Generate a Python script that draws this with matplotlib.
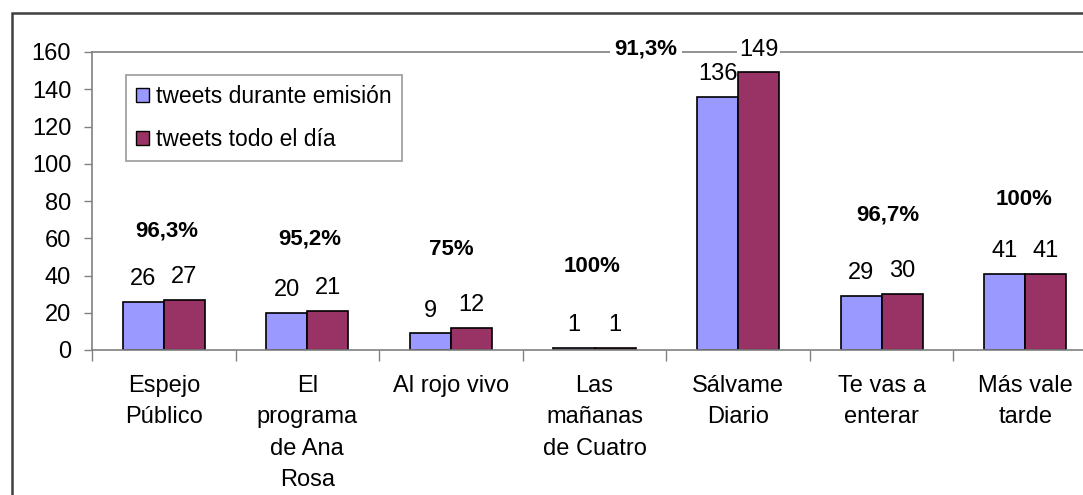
import matplotlib
matplotlib.use("Agg")
import matplotlib.pyplot as plt
from matplotlib.patches import Rectangle, Patch
import numpy as np

# ---- data ----
categories = ["Espejo\nPúblico", "El\nprograma\nde Ana\nRosa", "Al rojo vivo",
              "Las\nmañanas\nde Cuatro", "Sálvame\nDiario", "Te vas a\nenterar",
              "Más vale\ntarde"]
durante = [26, 20, 9, 1, 136, 29, 41]
todo_dia = [27, 21, 12, 1, 149, 30, 41]
porcentajes = ["96,3%", "95,2%", "75%", "100%", "91,3%", "96,7%", "100%"]
series_names = ["tweets durante emisión", "tweets todo el día"]
yticks = [0, 20, 40, 60, 80, 100, 120, 140, 160]

# ---- style ----
plt.rcParams["font.family"] = ["Liberation Sans", "DejaVu Sans"]
C_BLUE = "#9999FF"
C_RED = "#993366"
GREY = "#808080"
FS = 17

W, H = 1083, 495
fig = plt.figure(figsize=(W / 100, H / 100), dpi=100)
fig.patch.set_facecolor("white")

# outer chart border (extends past right/bottom edge)
fig.patches.append(Rectangle((12 / W, -0.2), 1.2, 1 - 13 / H + 0.2,
                             transform=fig.transFigure, fill=False,
                             edgecolor="#404040", linewidth=1.8))

ax = fig.add_axes([92 / W, 1 - 350 / H, (1097 - 92) / W, 298 / H])
x = np.arange(len(categories))
bw = 0.286
ax.bar(x - bw / 2, durante, bw, color=C_BLUE, edgecolor="black", linewidth=1.2,
       label=series_names[0], zorder=2)
ax.bar(x + bw / 2, todo_dia, bw, color=C_RED, edgecolor="black", linewidth=1.2,
       label=series_names[1], zorder=2)

ax.set_xlim(-0.5, len(categories) - 0.5)
ax.set_ylim(0, 160)
ax.set_yticks(yticks)
ax.tick_params(axis="y", direction="out", length=6, width=1, color=GREY,
               labelsize=FS, pad=9)
ax.set_xticks(x)
ax.set_xticklabels(categories, fontsize=FS, linespacing=1.55)
ax.tick_params(axis="x", which="major", length=0, pad=18)
ax.set_xticks(np.arange(-0.5, len(categories), 1), minor=True)
ax.tick_params(axis="x", which="minor", direction="out", length=8, width=1,
               color=GREY)
for s in ["left", "bottom", "top", "right"]:
    ax.spines[s].set_color(GREY)
    ax.spines[s].set_linewidth(1.2)

# value labels
for xi, v in zip(x - bw / 2, durante):
    ax.annotate(str(v), (xi, v), xytext=(0, 12), textcoords="offset points",
                ha="center", va="baseline", fontsize=FS, zorder=5,
                annotation_clip=False)
for xi, v in zip(x + bw / 2, todo_dia):
    bb = dict(facecolor="white", edgecolor="none", pad=1) if v > 140 else None
    ax.annotate(str(v), (xi, v), xytext=(0, 12), textcoords="offset points",
                ha="center", va="baseline", fontsize=FS, zorder=5, bbox=bb,
                annotation_clip=False)

# percentage labels (placement)
pct_y = [60.7, 56.4, 51.0, 41.9, 158.4, 69.3, 77.9]
pct_dx = [0.02, 0.02, 0.0, -0.02, -0.64, 0.04, -0.01]
for i, (p, yy, dx) in enumerate(zip(porcentajes, pct_y, pct_dx)):
    bb = dict(facecolor="white", edgecolor="none", pad=3) if yy > 150 else None
    ax.text(i + dx, yy, p, ha="center", va="baseline", fontsize=16,
            fontweight="bold", zorder=5, bbox=bb, clip_on=False)

handles = [Patch(facecolor=C_BLUE, edgecolor="black", linewidth=1),
           Patch(facecolor=C_RED, edgecolor="black", linewidth=1)]
leg = fig.legend(handles, series_names, loc="upper left",
                 bbox_to_anchor=(126 / W, 1 - 75 / H), borderaxespad=0,
                 fontsize=16.5, frameon=True, fancybox=False, shadow=False,
                 handlelength=0.55, handleheight=0.55, handletextpad=0.3,
                 labelspacing=0.85, borderpad=0.45)
leg.get_frame().set_edgecolor(GREY)
leg.get_frame().set_linewidth(1.2)

fig.savefig("out.png", dpi=100)
